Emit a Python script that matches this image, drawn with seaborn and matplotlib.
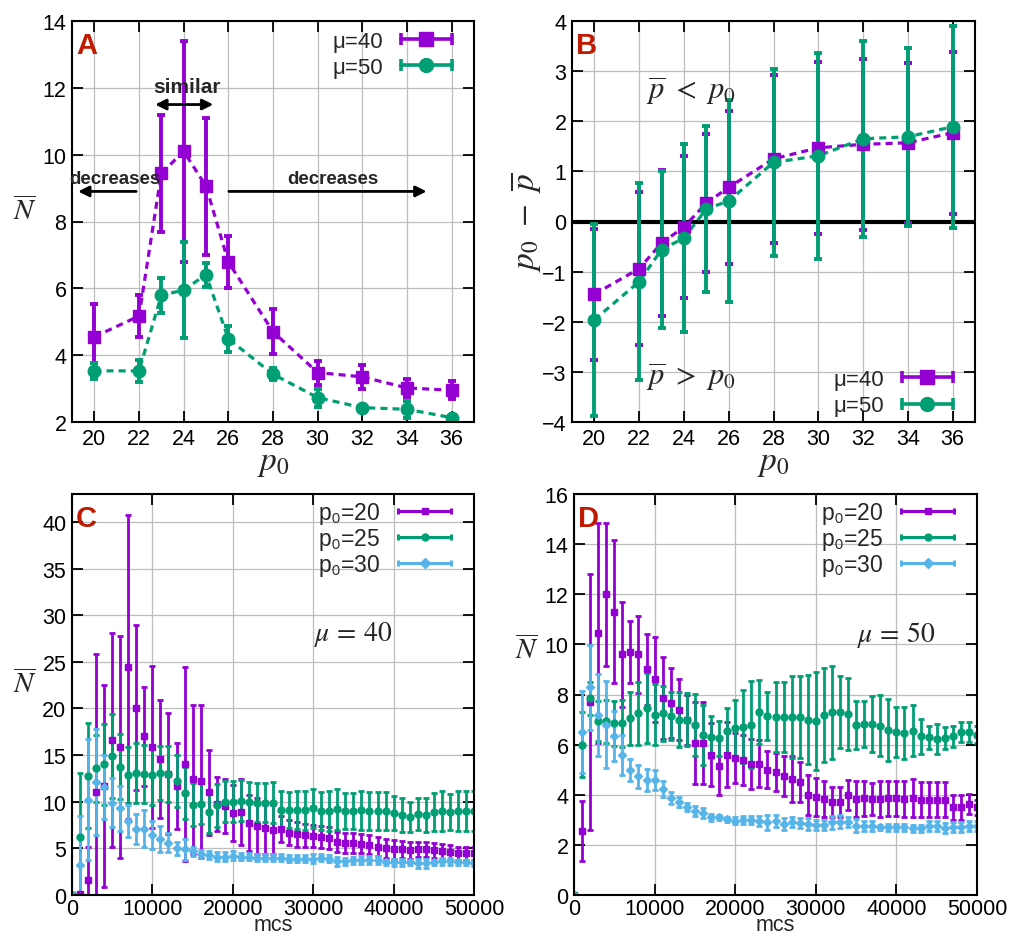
import numpy as np
import pandas as pd
import matplotlib
matplotlib.use('Agg')
import matplotlib.pyplot as plt
import seaborn as sns
from matplotlib.lines import Line2D
from matplotlib.legend_handler import HandlerLine2D

# colours (gnuplot-like)
PURPLE = '#9400d3'
GREEN = '#009e73'
BLUE = '#56b4e9'
LABEL_RED = '#c01a00'

# ---- panels A and B: mean over p0 ----
p0 = [20, 22, 23, 24, 25, 26, 28, 30, 32, 34, 36]

n_mu40 = [4.55, 5.17, 9.44, 10.1, 9.06, 6.79, 4.70, 3.48, 3.35, 3.02, 2.95]
n_mu40_err = [0.97, 0.62, 1.75, 3.3, 2.05, 0.77, 0.67, 0.36, 0.35, 0.28, 0.27]
n_mu50 = [3.53, 3.53, 5.79, 5.95, 6.41, 4.49, 3.43, 2.73, 2.43, 2.38, 2.13]
n_mu50_err = [0.25, 0.33, 0.52, 1.43, 0.36, 0.39, 0.18, 0.27, 0.05, 0.26, 0.05]

dp_mu40 = [-1.45, -0.94, -0.43, -0.11, 0.37, 0.68, 1.25, 1.47, 1.54, 1.57, 1.77]
dp_mu40_err = [1.31, 1.53, 1.45, 1.42, 1.37, 1.52, 1.67, 1.72, 1.70, 1.60, 1.62]
dp_mu50 = [-1.96, -1.20, -0.56, -0.33, 0.25, 0.41, 1.18, 1.31, 1.65, 1.69, 1.89]
dp_mu50_err = [1.92, 1.96, 1.56, 1.87, 1.65, 2.02, 1.87, 2.05, 1.95, 1.77, 2.02]

# ---- panels C and D: time series ----
mcs = list(range(0, 50001, 1000))

c_p20 = [0, 0.1, 1.6, 11.0, 11.7, 16.6, 15.9, 24.5, 20.1, 17.0, 15.9, 14.6, 13.0, 11.7, 14.0, 12.4, 12.2,
         11.0, 9.8, 9.5, 8.8, 8.9, 7.7, 7.4, 7.2, 7.0, 7.1, 6.7, 6.5, 6.4, 6.3, 6.2, 6.1, 5.7, 5.6, 5.6,
         5.5, 5.4, 5.2, 5.0, 4.9, 4.9, 4.8, 4.9, 4.9, 4.8, 4.7, 4.6, 4.5, 4.5, 4.5]
c_p20_err = [0, 0.2, 3.6, 14.8, 10.8, 11.5, 11.9, 16.3, 8.8, 5.3, 8.7, 6.3, 6.5, 4.6, 10.4, 8.0, 8.2,
             4.6, 2.9, 2.9, 3.0, 3.5, 3.0, 3.0, 2.8, 2.6, 1.4, 1.3, 1.3, 1.2, 1.2, 1.2, 1.2, 1.1, 1.1, 1.1,
             1.0, 1.0, 1.0, 1.0, 1.0, 0.9, 0.9, 0.8, 0.8, 0.8, 0.8, 0.8, 0.7, 0.7, 0.7]
c_p25 = [0, 6.25, 12.8, 13.6, 14.0, 14.9, 13.75, 12.9, 13.1, 13.0, 12.9, 13.1, 13.0, 12.2, 10.9, 9.7, 9.8,
         8.9, 9.6, 10.0, 10.0, 10.1, 10.0, 9.9, 9.9, 9.9, 9.1, 9.1, 9.1, 9.1, 9.3, 9.0, 9.0, 9.2, 9.0, 9.0,
         9.1, 9.0, 9.0, 9.0, 8.8, 8.6, 8.4, 8.7, 8.6, 8.9, 9.0, 8.9, 9.0, 9.0, 9.0]
c_p25_err = [0, 6.8, 5.6, 3.6, 4.3, 4.5, 3.5, 3.0, 3.2, 3.1, 3.2, 2.9, 3.0, 2.8, 2.8, 2.3, 2.2,
             2.3, 2.3, 2.2, 2.2, 2.2, 2.1, 2.1, 2.1, 2.2, 2.0, 1.9, 2.0, 2.1, 2.1, 2.0, 2.1, 2.2, 1.9, 1.9,
             2.1, 2.0, 2.0, 2.0, 1.8, 1.8, 1.6, 1.7, 1.8, 2.0, 2.1, 1.9, 2.1, 2.1, 2.1]
c_p30 = [0, 3.25, 10.2, 12.1, 11.6, 9.9, 9.3, 7.9, 7.1, 7.1, 6.4, 6.0, 5.6, 5.0, 4.9, 4.7, 4.4,
         4.3, 4.1, 4.1, 4.2, 4.1, 4.1, 4.0, 4.0, 4.0, 4.0, 3.9, 3.9, 3.9, 3.9, 4.0, 3.9, 3.6, 3.6, 3.7,
         3.75, 3.75, 3.75, 3.5, 3.5, 3.5, 3.5, 3.4, 3.4, 3.5, 3.6, 3.6, 3.5, 3.5, 3.4]
c_p30_err = [0, 5.2, 6.5, 5.7, 3.4, 2.6, 2.4, 1.7, 1.6, 2.0, 1.5, 1.4, 1.0, 0.7, 1.1, 0.5, 0.4,
             0.4, 0.5, 0.5, 0.5, 0.4, 0.4, 0.4, 0.4, 0.4, 0.4, 0.4, 0.4, 0.4, 0.5, 0.4, 0.4, 0.5, 0.4, 0.4,
             0.4, 0.4, 0.4, 0.3, 0.4, 0.4, 0.3, 0.5, 0.5, 0.3, 0.4, 0.4, 0.3, 0.3, 0.3]

d_p20 = [0, 2.57, 7.7, 10.45, 12.0, 11.3, 9.6, 9.7, 9.6, 9.0, 8.6, 7.86, 7.65, 7.4, 6.98, 6.06, 6.06,
         5.6, 5.13, 5.6, 5.45, 5.39, 5.24, 5.24, 5.0, 4.9, 4.76, 4.63, 4.52, 3.99, 3.9, 3.83, 3.72, 3.72,
         3.99, 3.83, 3.86, 3.83, 3.83, 3.86, 3.86, 3.83, 3.86, 3.8, 3.8, 3.8, 3.8, 3.5, 3.5, 3.63, 3.5]
d_p20_err = [0, 1.2, 5.1, 4.4, 2.85, 2.85, 2.1, 1.25, 1.55, 1.4, 1.7, 1.65, 1.4, 1.2, 1.0, 1.65, 1.65,
             1.25, 1.15, 1.3, 1.0, 1.0, 1.0, 0.95, 0.75, 0.75, 0.8, 0.9, 0.8, 0.8, 0.75, 0.7, 0.6, 0.6,
             0.6, 0.7, 0.7, 0.65, 0.7, 0.7, 0.7, 0.7, 0.75, 0.7, 0.7, 0.7, 0.7, 0.5, 0.5, 0.4, 0.3]
d_p25 = [0, 6.0, 7.85, 6.93, 6.93, 6.85, 6.85, 7.05, 7.25, 7.45, 7.2, 7.25, 7.15, 7.0, 7.0, 6.78, 6.38,
         6.3, 6.25, 6.55, 6.65, 6.72, 6.8, 7.3, 7.13, 7.09, 7.09, 7.09, 7.09, 7.0, 6.95, 7.18, 7.29, 7.29,
         7.22, 6.78, 6.82, 6.82, 6.76, 6.58, 6.49, 6.46, 6.56, 6.33, 6.29, 6.22, 6.26, 6.33, 6.49, 6.49, 6.4]
d_p25_err = [0, 1.3, 0.65, 0.8, 0.85, 0.9, 0.95, 1.05, 1.25, 1.4, 1.2, 1.1, 0.95, 1.1, 1.05, 1.25, 1.2,
             0.85, 0.7, 0.9, 1.15, 1.45, 1.74, 1.27, 0.95, 1.4, 1.4, 1.63, 1.63, 1.78, 1.95, 1.88, 1.86, 1.43,
             1.44, 0.97, 0.93, 1.13, 1.22, 1.24, 1.0, 1.03, 1.02, 0.69, 0.47, 0.6, 0.43, 0.43, 0.4, 0.4, 0.35]
d_p30 = [0, 6.5, 8.28, 7.18, 6.8, 6.36, 5.6, 4.99, 4.73, 4.59, 4.59, 4.23, 3.87, 3.72, 3.52, 3.36, 3.26,
         3.1, 3.1, 3.03, 2.97, 2.99, 2.99, 2.97, 2.9, 2.96, 2.83, 2.93, 2.86, 2.83, 2.81, 2.81, 2.9, 2.93,
         2.9, 2.77, 2.74, 2.74, 2.7, 2.7, 2.7, 2.7, 2.66, 2.66, 2.77, 2.74, 2.66, 2.7, 2.7, 2.74, 2.74]
d_p30_err = [0, 1.63, 1.7, 1.65, 1.72, 1.0, 0.8, 0.43, 0.45, 0.45, 0.4, 0.3, 0.25, 0.2, 0.15, 0.2, 0.2,
             0.15, 0.1, 0.1, 0.15, 0.15, 0.15, 0.2, 0.3, 0.25, 0.25, 0.2, 0.2, 0.25, 0.2, 0.2, 0.25, 0.25,
             0.2, 0.25, 0.2, 0.2, 0.1, 0.15, 0.15, 0.15, 0.15, 0.15, 0.2, 0.2, 0.2, 0.2, 0.2, 0.2, 0.2]

sns.set_theme(style='ticks')
plt.rcParams['font.family'] = ['Liberation Sans', 'DejaVu Sans']
plt.rcParams['mathtext.fontset'] = 'stix'

fig = plt.figure(figsize=(10.16, 9.37), dpi=100)
axA = fig.add_axes([72 / 1016, 1 - 423 / 937, 402 / 1016, 401 / 937])
axB = fig.add_axes([572 / 1016, 1 - 423 / 937, 403 / 1016, 401 / 937])
axC = fig.add_axes([72 / 1016, 1 - 896 / 937, 402 / 1016, 401 / 937])
axD = fig.add_axes([574 / 1016, 1 - 896 / 937, 403 / 1016, 401 / 937])


def style_axis(ax, letter):
    ax.grid(True, color='#bdbdbd', lw=0.9)
    ax.set_axisbelow(True)
    ax.tick_params(direction='in', length=8, width=1.3, top=True, right=True,
                   labelsize=15.5, pad=4, colors='black')
    for s in ax.spines.values():
        s.set_linewidth(1.5)
        s.set_color('black')
    ax.text(0.01, 0.975, letter, transform=ax.transAxes, ha='left', va='top',
            fontsize=21, fontweight='bold', color=LABEL_RED, zorder=10)


def err_legend(ax, colors, markers, labels, msize, lw, loc, anchor, spacing, fsize):
    handles, hmap = [], {}
    for c, m in zip(colors, markers):
        caps = Line2D([], [], color=c, lw=lw, marker='|', ms=msize * 0.9, mew=lw)
        mk = Line2D([], [], color=c, lw=0, marker=m, ms=msize)
        hmap[caps] = HandlerLine2D(numpoints=2)
        hmap[mk] = HandlerLine2D(numpoints=1)
        handles.append((caps, mk))
    leg = ax.legend(handles, labels, handler_map=hmap, loc=loc, bbox_to_anchor=anchor,
                    frameon=False, markerfirst=False, fontsize=fsize, handlelength=2.9,
                    labelspacing=spacing, borderaxespad=0.3, handletextpad=0.5)
    leg.set_zorder(20)
    return leg


def mean_panel(ax, y40, e40, y50, e50):
    for y, e, c, m, ms in [(y40, e40, PURPLE, 's', 9), (y50, e50, GREEN, 'o', 9)]:
        df = pd.DataFrame({'p0': p0, 'v': y})
        sns.lineplot(data=df, x='p0', y='v', ax=ax, color=c, lw=2.3,
                     linestyle=(0, (2.2, 1.6)), legend=False)
        ax.errorbar(p0, y, yerr=e, fmt=m, color=c, ms=ms, elinewidth=2.8,
                    capsize=2.6, capthick=2.8)
    ax.set_xlim(19, 37)
    ax.set_xticks([20, 22, 24, 26, 28, 30, 32, 34, 36])
    ax.set_xlabel('$p_0$', fontsize=24, labelpad=-1)
    ax.set_ylabel('')


def time_panel(ax, s20, e20, s25, e25, s30, e30, ymax):
    for y, e, c, m, ms in [(s20, e20, PURPLE, 's', 5), (s25, e25, GREEN, 'o', 5),
                           (s30, e30, BLUE, 'D', 4.5)]:
        ax.errorbar(mcs, y, yerr=e, fmt=m, color=c, ms=ms, elinewidth=2.0,
                    capsize=2.4, capthick=2.0, clip_on=True)
    ax.set_xlim(0, 50000)
    ax.set_ylim(0, ymax)
    ax.set_xticks([0, 10000, 20000, 30000, 40000, 50000])
    ax.set_xlabel('mcs', fontsize=15.5, va='bottom')
    # bottom of the label box sits on the bottom edge of the figure
    ax.xaxis.set_label_coords(0.5, -40 / 401)
    ax.set_ylabel(r'$\overline{N}$', rotation=0, fontsize=21)


# A
mean_panel(axA, n_mu40, n_mu40_err, n_mu50, n_mu50_err)
axA.set_ylim(2, 14)
axA.set_yticks([2, 4, 6, 8, 10, 12, 14])
axA.set_ylabel(r'$\overline{N}$', rotation=0, fontsize=21)
axA.yaxis.set_label_coords(-0.117, 0.49)
style_axis(axA, 'A')
err_legend(axA, [PURPLE, GREEN], ['s', 'o'], [r'μ=40', r'μ=50'], 10, 2.6,
           'upper right', (1.0, 1.015), 0.25, 16)
axA.text(24.15, 12.03, 'similar', ha='center', va='center', fontsize=15, fontweight='bold')
axA.annotate('', xy=(22.6, 11.5), xytext=(25.45, 11.5),
             arrowprops=dict(arrowstyle='<|-|>', color='black', lw=2, mutation_scale=16))
axA.text(20.9, 9.3, 'decreases', ha='center', va='center', fontsize=13.5, fontweight='bold')
axA.annotate('', xy=(19.15, 8.9), xytext=(22.0, 8.9),
             arrowprops=dict(arrowstyle='-|>', color='black', lw=2, mutation_scale=16))
axA.text(30.7, 9.3, 'decreases', ha='center', va='center', fontsize=13.5, fontweight='bold')
axA.annotate('', xy=(35.0, 8.9), xytext=(25.9, 8.9),
             arrowprops=dict(arrowstyle='-|>', color='black', lw=2, mutation_scale=16))

# B
axB.axhline(0, color='black', lw=3, zorder=1.5)
mean_panel(axB, dp_mu40, dp_mu40_err, dp_mu50, dp_mu50_err)
axB.set_ylim(-4, 4)
axB.set_yticks(range(-4, 5))
axB.set_ylabel(r'$p_0\ -\ \overline{p}$', fontsize=24)
axB.yaxis.set_label_coords(-0.07, 0.5)
style_axis(axB, 'B')
err_legend(axB, [PURPLE, GREEN], ['s', 'o'], [r'μ=40', r'μ=50'], 10, 2.6,
           'lower right', (1.0, -0.025), 0.25, 16)
axB.text(22.3, 2.62, r'$\overline{p}\ <\ p_0$', fontsize=22, va='center')
axB.text(22.3, -3.08, r'$\overline{p}\ >\ p_0$', fontsize=22, va='center')

# C
time_panel(axC, c_p20, c_p20_err, c_p25, c_p25_err, c_p30, c_p30_err, 43)
axC.set_yticks(range(0, 41, 5))
axC.yaxis.set_label_coords(-0.117, 0.49)
style_axis(axC, 'C')
axC.tick_params(axis='x', pad=2)
labels_p = [r'p$_\mathsf{0}$=20', r'p$_\mathsf{0}$=25', r'p$_\mathsf{0}$=30']
err_legend(axC, [PURPLE, GREEN, BLUE], ['s', 'o', 'D'], labels_p, 5, 2.2,
           'upper right', (1.0, 1.025), 0.0, 16.5)
axC.text(35000, 28, r'$\mu\,=\,40$', fontsize=20, ha='center', va='center')

# D
time_panel(axD, d_p20, d_p20_err, d_p25, d_p25_err, d_p30, d_p30_err, 16)
axD.set_yticks(range(0, 17, 2))
axD.yaxis.set_label_coords(-0.117, 0.576)
style_axis(axD, 'D')
axD.tick_params(axis='x', pad=2)
err_legend(axD, [PURPLE, GREEN, BLUE], ['s', 'o', 'D'], labels_p, 5, 2.2,
           'upper right', (1.0, 1.025), 0.0, 16.5)
axD.text(40000, 10.4, r'$\mu\,=\,50$', fontsize=20, ha='center', va='center')

fig.savefig('out.png', dpi=100)
